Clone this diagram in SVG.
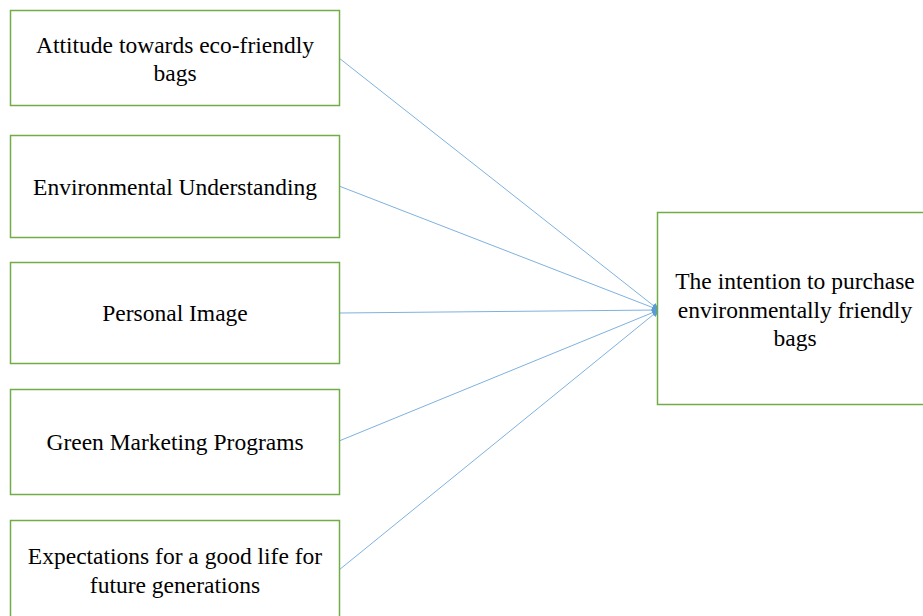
<svg xmlns="http://www.w3.org/2000/svg" width="923" height="616" viewBox="0 0 923 616">
<style>
.box{fill:#fff;stroke:#70AD47;stroke-width:1.5}
.t{font-family:'Liberation Serif','Times New Roman',serif;font-size:23.5px;fill:#000;text-anchor:middle}
.c{stroke:#6FA8DC;stroke-width:0.9;fill:none;marker-end:url(#ah)}
</style>
<defs>
<marker id="ah" viewBox="0 0 10 10" refX="9" refY="5" markerWidth="8" markerHeight="8" markerUnits="userSpaceOnUse" orient="auto">
<path d="M0,1 L10,5 L0,9 Z" fill="#5B9BD5"/>
</marker>
</defs>
<rect width="923" height="616" fill="#fff"/>
<g id="connectors">
<line class="c" x1="339" y1="58" x2="659" y2="310"/>
<line class="c" x1="339" y1="186" x2="659" y2="310"/>
<line class="c" x1="339" y1="313" x2="659" y2="310"/>
<line class="c" x1="339" y1="441" x2="659" y2="310"/>
<line class="c" x1="339" y1="570" x2="659" y2="310"/>
</g>
<g id="n1">
<rect class="box" x="10.5" y="10.5" width="329" height="95"/>
<text class="t" x="175" y="53">Attitude towards eco-friendly</text>
<text class="t" x="175" y="81">bags</text>
</g>
<g id="n2">
<rect class="box" x="10.5" y="135.5" width="329" height="102"/>
<text class="t" x="175" y="195">Environmental Understanding</text>
</g>
<g id="n3">
<rect class="box" x="10.5" y="262.5" width="329" height="101"/>
<text class="t" x="175" y="321">Personal Image</text>
</g>
<g id="n4">
<rect class="box" x="10.5" y="389.5" width="329" height="105"/>
<text class="t" x="175" y="450">Green Marketing Programs</text>
</g>
<g id="n5">
<rect class="box" x="10.5" y="520.5" width="329" height="110"/>
<text class="t" x="175" y="564">Expectations for a good life for</text>
<text class="t" x="175" y="593">future generations</text>
</g>
<g id="n6">
<rect class="box" x="657.5" y="212.5" width="280" height="192"/>
<text class="t" x="795" y="289">The intention to purchase</text>
<text class="t" x="795" y="318">environmentally friendly</text>
<text class="t" x="795" y="346">bags</text>
</g>
</svg>
